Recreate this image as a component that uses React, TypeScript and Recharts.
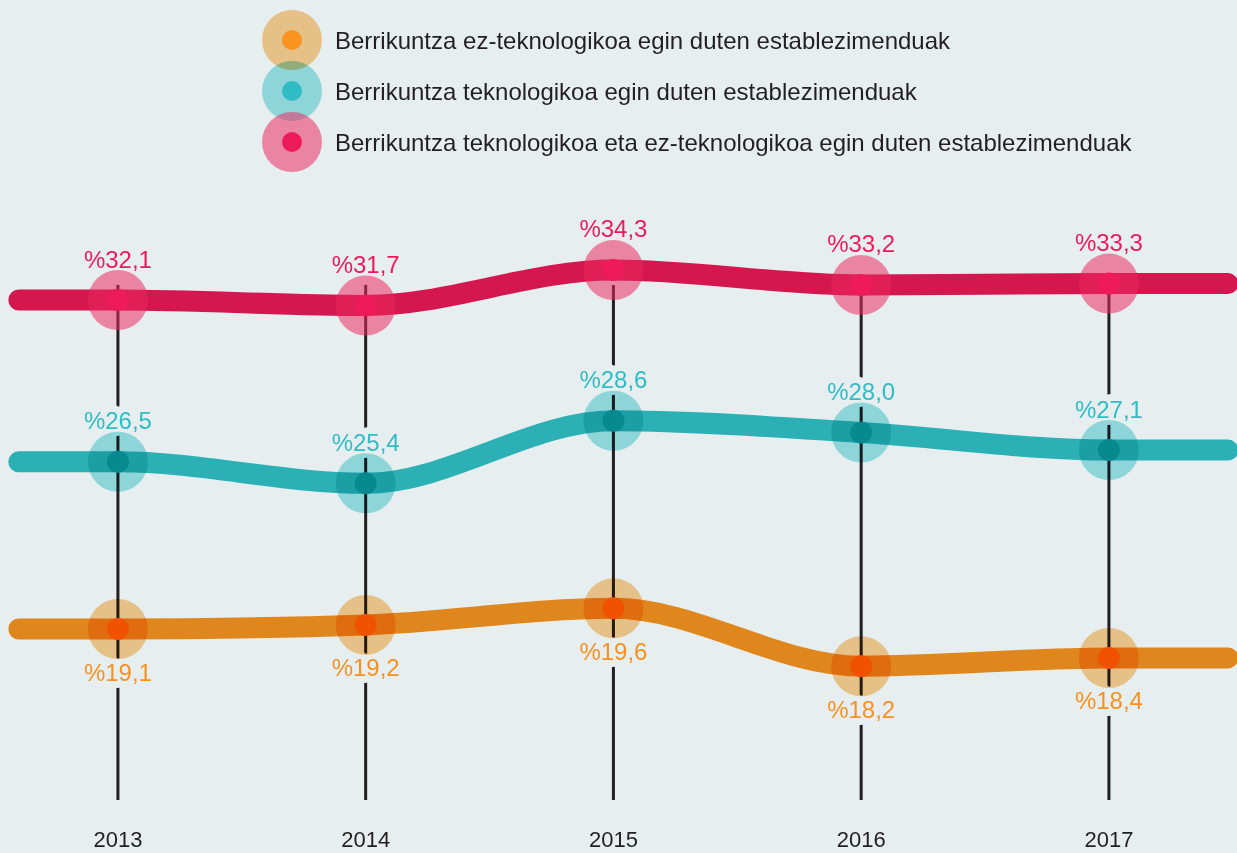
import React from "react";
import {
  LineChart,
  Line,
  XAxis,
  YAxis,
  CartesianGrid,
  LabelList,
  Legend,
} from "recharts";

const years = [2013, 2014, 2015, 2016, 2017];
const redValues = [32.1, 31.7, 34.3, 33.2, 33.3];
const tealValues = [26.5, 25.4, 28.6, 28.0, 27.1];
const orangeValues = [19.1, 19.2, 19.6, 18.2, 18.4];

const legendLabels = [
  "Berrikuntza ez-teknologikoa egin duten establezimenduak",
  "Berrikuntza teknologikoa egin duten establezimenduak",
  "Berrikuntza teknologikoa eta ez-teknologikoa egin duten establezimenduak",
];

// lines run past the first and last year, flat
const lineStart = 2012.6;
const lineEnd = 2017.48;
const xDomain: [number, number] = [2012.524, 2017.517];

const chartData = [
  { x: lineStart, edge: true, red: redValues[0], teal: tealValues[0], orange: orangeValues[0] },
  ...years.map((x, i) => ({
    x,
    edge: false,
    red: redValues[i],
    teal: tealValues[i],
    orange: orangeValues[i],
  })),
  { x: lineEnd, edge: true, red: redValues[4], teal: tealValues[4], orange: orangeValues[4] },
];

const BG = "#e6eef0";
const FONT = "'Liberation Sans', Arial, Helvetica, sans-serif";

const styles = {
  orange: {
    line: "#df861c",
    halo: "rgb(255,207,143)",
    haloBlend: "multiply",
    core: "#f05200",
    legendCore: "#f7931e",
    text: "#f7901e",
  },
  teal: {
    line: "#2bb0b5",
    halo: "rgb(157,229,231)",
    haloBlend: "multiply",
    core: "#068a90",
    legendCore: "#2fbcc4",
    text: "#2fbcc4",
  },
  red: {
    line: "#d4174f",
    halo: "rgba(237,40,95,0.53)",
    haloBlend: "normal",
    core: "#ee1a5a",
    legendCore: "#ed1b5b",
    text: "#ed1a5b",
  },
} as const;

type Key = keyof typeof styles;

const fmt = (v: number) => "%" + v.toFixed(1).replace(".", ",");

// point marker + value label; drawn together so the label's background
// knock-out cuts the year rule but not the marker
function makeLabel(k: Key, below: boolean) {
  const s = styles[k];
  return (props: any) => {
    const { x, y, value, index } = props;
    if (chartData[index]?.edge) return null;
    const ty = below ? y + 43 : y - 41;
    const textProps = {
      x,
      y: ty,
      textAnchor: "middle" as const,
      dominantBaseline: "central" as const,
      fontFamily: FONT,
      fontSize: 24,
    };
    return (
      <g key={`l-${k}-${index}`}>
        <text {...textProps} fill={BG} stroke={BG} strokeWidth={14} strokeLinejoin="round">
          {fmt(value)}
        </text>
        <circle cx={x} cy={y} r={30} fill={s.halo} style={{ mixBlendMode: s.haloBlend as any }} />
        <circle cx={x} cy={y} r={11} fill={s.core} />
        <text {...textProps} fill={s.text}>
          {fmt(value)}
        </text>
      </g>
    );
  };
}

const legendOrder: Key[] = ["orange", "teal", "red"];

function LegendBox() {
  return (
    <svg width={1237} height={180} style={{ overflow: "visible" }}>
      {legendOrder.map((k, i) => {
        const s = styles[k];
        const cy = 40 + i * 51;
        return (
          <g key={k}>
            <circle cx={292} cy={cy} r={30} fill={s.halo} style={{ mixBlendMode: s.haloBlend as any }} />
            <circle cx={292} cy={cy} r={10} fill={s.legendCore} />
            <text x={335} y={cy} dominantBaseline="central" fontFamily={FONT} fontSize={24} fill="#231f20">
              {legendLabels[i]}
            </text>
          </g>
        );
      })}
    </svg>
  );
}

// year rules only, no lines at the plot edges
const yearRules = ({ offset }: any) => {
  if (!offset) return [];
  return years.map(
    (v) => offset.left + ((v - xDomain[0]) / (xDomain[1] - xDomain[0])) * offset.width
  );
};

export default function App() {
  return (
    <div
      style={{
        position: "absolute",
        left: 0,
        top: 0,
        width: 1237,
        height: 853,
        background: BG,
        fontFamily: FONT,
      }}
    >
      <LineChart width={1237} height={853} data={chartData} margin={{ top: 0, right: 0, bottom: 0, left: 0 }}>
        <CartesianGrid
          horizontal={false}
          stroke="#231f20"
          strokeWidth={3}
          y={285}
          height={515}
          verticalCoordinatesGenerator={yearRules}
        />
        <XAxis
          dataKey="x"
          type="number"
          domain={xDomain}
          ticks={years}
          interval={0}
          tickLine={false}
          axisLine={false}
          height={53}
          tickMargin={25}
          tick={{ fill: "#231f20", fontSize: 22, fontFamily: FONT }}
        />
        <YAxis yAxisId="red" type="number" hide domain={[-4.5, 54.06]} />
        <YAxis yAxisId="teal" type="number" hide domain={[9.21, 50.11]} />
        <YAxis yAxisId="orange" type="number" hide domain={[14.96, 34.33]} />
        <Legend
          layout="vertical"
          align="center"
          verticalAlign="middle"
          wrapperStyle={{ top: 0, left: 0, width: 1237, height: 180 }}
          content={() => <LegendBox />}
        />
        <Line
          yAxisId="red"
          dataKey="red"
          type="monotone"
          stroke={styles.red.line}
          strokeWidth={21}
          strokeLinecap="round"
          dot={false}
          activeDot={false}
          isAnimationActive={false}
        >
          <LabelList dataKey="red" content={makeLabel("red", false)} />
        </Line>
        <Line
          yAxisId="teal"
          dataKey="teal"
          type="monotone"
          stroke={styles.teal.line}
          strokeWidth={21}
          strokeLinecap="round"
          dot={false}
          activeDot={false}
          isAnimationActive={false}
        >
          <LabelList dataKey="teal" content={makeLabel("teal", false)} />
        </Line>
        <Line
          yAxisId="orange"
          dataKey="orange"
          type="monotone"
          stroke={styles.orange.line}
          strokeWidth={21}
          strokeLinecap="round"
          dot={false}
          activeDot={false}
          isAnimationActive={false}
        >
          <LabelList dataKey="orange" content={makeLabel("orange", true)} />
        </Line>
      </LineChart>
    </div>
  );
}
